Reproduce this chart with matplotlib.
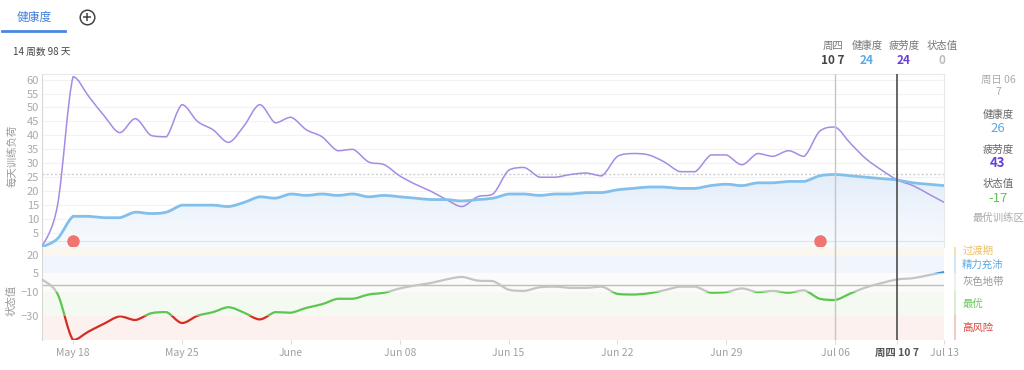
import numpy as np
import pandas as pd
import matplotlib
matplotlib.use("Agg")
import matplotlib.pyplot as plt
import matplotlib.dates as mdates
from matplotlib.patches import Rectangle, PathPatch
from matplotlib.path import Path
from matplotlib.colors import LinearSegmentedColormap
from matplotlib.transforms import blended_transform_factory

plt.rcParams['font.family'] = ['Noto Sans CJK SC', 'DejaVu Sans']

# daily values, May 16 - Jul 13 2025
dates = pd.date_range('2025-05-16', '2025-07-13')
fatigue = [0, 15, 61, 54, 47, 41, 46, 40, 39.5, 51, 45, 42, 37.5, 43.5, 51, 44.5,
           46.5, 42, 39.5, 34.5, 35, 30.5, 29.5, 25.5, 22.5, 20, 17, 14.5, 18, 19,
           27.5, 28.5, 25, 25, 26, 26.5, 25.5, 32.5, 33.5, 33, 30.5, 27, 27, 33, 33,
           29.5, 33.5, 32.5, 34.5, 32.5, 41.5, 43, 37, 31.5, 27.5, 24, 22, 19, 16]
health = [0, 3, 11, 11, 10.5, 10.5, 12.5, 12, 12.5, 15, 15, 15, 14.5, 16, 18, 17.5,
          19, 18.5, 19, 18.5, 19, 18, 18.5, 18, 17.5, 17, 17, 16.5, 17, 17.5,
          19, 19, 18.5, 19, 19, 19.5, 19.5, 20.5, 21, 21.5, 21.5, 21, 21, 22, 22.5,
          22, 23, 23, 23.5, 23.5, 25.5, 26, 25.5, 25, 24.5, 24, 23, 22.5, 22]
state = [0, -12, -50, -43, -36.5, -30.5, -33.5, -28, -27, -36, -30, -27, -23, -27.5,
         -33, -27, -27.5, -23.5, -20.5, -16, -16, -12.5, -11, -7.5, -5, -3, 0, 2, -1,
         -1.5, -8.5, -9.5, -6.5, -6, -7, -7, -6, -12, -12.5, -11.5, -9, -6, -6, -11,
         -10.5, -7.5, -10.5, -9.5, -11, -9, -16, -17, -11.5, -6.5, -3, 0, 1, 3.5, 6]
event_dates = ['2025-05-18', '2025-07-05']
event_level = 2.3
ref_level = 26

tick_dates = ['2025-05-18', '2025-05-25', '2025-06-01', '2025-06-08', '2025-06-15',
              '2025-06-22', '2025-06-29', '2025-07-06', '2025-07-10', '2025-07-13']
tick_labels = ['May 18', 'May 25', 'June', 'Jun 08', 'Jun 15', 'Jun 22', 'Jun 29',
               'Jul 06', '周四 10 7', 'Jul 13']

# state bands (low, high, background, line colour, legend bar colour, label, label colour)
bands = [
    (20, 26.7, '#fbf7ee', '#f0b94a', '#f6e2b4', '过渡期', '#eec063'),
    (5, 20, '#f1f6fc', '#3f95dc', '#d3e6f7', '精力充沛', '#5aa9e6'),
    (-10, 5, '#fbfbfb', '#c4c4c4', '#efefef', '灰色地带', '#999999'),
    (-30, -10, '#f4faf2', '#5cc64f', '#d5efcf', '最优', '#6cc95f'),
    (-50, -30, '#fcf1ef', '#d22e22', '#f3cbc6', '高风险', '#d9453a'),
]


def smooth_path(xs, ys, base=None):
    # cubic bezier through the daily points, control points kept between neighbours
    pts = np.column_stack([xs, ys]).astype(float)
    n = len(pts)
    verts = [pts[0]]
    codes = [Path.MOVETO]
    for i in range(n - 1):
        p0 = pts[max(i - 1, 0)]
        p1 = pts[i]
        p2 = pts[i + 1]
        p3 = pts[min(i + 2, n - 1)]
        c1 = p1 + (p2 - p0) / 6
        c2 = p2 - (p3 - p1) / 6
        lo, hi = min(p1[1], p2[1]), max(p1[1], p2[1])
        c1[1] = np.clip(c1[1], lo, hi)
        c2[1] = np.clip(c2[1], lo, hi)
        verts += [c1, c2, p2]
        codes += [Path.CURVE4] * 3
    if base is not None:
        verts += [(xs[-1], base), (xs[0], base), pts[0]]
        codes += [Path.LINETO, Path.LINETO, Path.CLOSEPOLY]
    return Path(verts, codes)


x = mdates.date2num(dates)
sel_day = mdates.date2num(pd.Timestamp('2025-07-06'))
cur_day = mdates.date2num(pd.Timestamp('2025-07-10'))

fig = plt.figure(figsize=(10.24, 3.7), dpi=100)
ax1 = fig.add_axes([0.041, 0.3324, 0.881, 0.4676])
ax2 = fig.add_axes([0.041, 0.0811, 0.881, 0.2513], sharex=ax1)

# ---- top panel: daily load ----
area = smooth_path(x, health, base=0)
cmap = LinearSegmentedColormap.from_list('fade', ['#f8fbfe', '#e2edf9'])
grad = np.linspace(1, 0, 256).reshape(-1, 1)
im = ax1.imshow(grad, extent=[x[0], x[-1], 0, 27], aspect='auto', cmap=cmap,
                origin='upper', zorder=1)
im.set_clip_path(area, transform=ax1.transData)

ax1.axhline(ref_level, color='#cfcfcf', lw=1, ls=(0, (1.5, 1.5)), zorder=2)
ax1.axhline(event_level, color='#e2e2e2', lw=0.8, zorder=2)
ax1.add_patch(PathPatch(smooth_path(x, fatigue), fc='none', ec='#a58be3', lw=1.1,
                        zorder=4, capstyle='round'))
ax1.add_patch(PathPatch(smooth_path(x, health), fc='none', ec='#83bfeb', lw=2,
                        zorder=4, capstyle='round'))
ax1.plot(mdates.date2num(pd.to_datetime(event_dates)), [event_level] * len(event_dates),
         'o', color='#f07470', ms=9, mec='none', zorder=5)

ax1.set_xlim(x[0], x[-1])
ax1.set_ylim(0, 62)
ax1.set_yticks(range(5, 61, 5))
ax1.grid(axis='y', color='#f2f2f2', lw=0.8)
ax1.set_axisbelow(True)
ax1.tick_params(axis='y', length=0, colors='#aaaaaa', labelsize=8, pad=2)
ax1.tick_params(axis='x', bottom=False, labelbottom=False)
ax1.spines['left'].set_color('#d8d8d8')
ax1.spines['top'].set_color('#e8e8e8')
ax1.spines['right'].set_color('#e8e8e8')
ax1.spines['bottom'].set_visible(False)

# ---- bottom panel: state value ----
for lo, hi, bg, lc, bc, lab, tc in bands:
    ax2.axhspan(lo, hi, color=bg, lw=0, zorder=0)
ax2.axhline(-5, color='#bdbdbd', lw=1, zorder=1)
state_path = smooth_path(x, state)
for lo, hi, bg, lc, bc, lab, tc in bands:
    pp = ax2.add_patch(PathPatch(state_path, fc='none', ec=lc, lw=1.6, zorder=3))
    pp.set_clip_path(Rectangle((x[0] - 1, lo), x[-1] - x[0] + 2, hi - lo,
                               transform=ax2.transData))

ax2.set_ylim(-50, 26.7)
ax2.set_yticks([20, 5, -10, -30])
ax2.tick_params(axis='y', length=0, colors='#aaaaaa', labelsize=8, pad=2)
ax2.set_xticks(mdates.date2num(pd.to_datetime(tick_dates)))
ax2.set_xticklabels(tick_labels)
ax2.tick_params(axis='x', length=3, color='#dddddd', labelsize=7.5,
                labelcolor='#a0a0a0', pad=3)
for t in ax2.get_xticklabels():
    if t.get_text().startswith('周'):
        t.set_color('#555555')
        t.set_fontweight('bold')
for s in ['top', 'right', 'bottom']:
    ax2.spines[s].set_visible(False)
ax2.spines['left'].set_color('#d8d8d8')

for ax in (ax1, ax2):
    ax.axvline(sel_day, color='#c6c6c6', lw=1, zorder=6)
    ax.axvline(cur_day, color='#4d4d4d', lw=1.2, zorder=6)

# band legend on the right
tr = blended_transform_factory(ax2.transAxes, ax2.transData)
label_y = [23.5, 12.5, -2.5, -20, -40]
for (lo, hi, bg, lc, bc, lab, tc), ly in zip(bands, label_y):
    ax2.plot([1.012, 1.012], [lo + 0.6, hi - 0.6], color=bc, lw=1.5,
             transform=tr, clip_on=False)
    ax2.text(1.020, ly, lab, color=tc, fontsize=7.5, va='center', ha='left',
             transform=tr)

# axis titles
fig.text(12 / 1024, 1 - 156 / 370, '每天训练负荷', rotation=90, color='#999999',
         fontsize=7.5, ha='center', va='center')
fig.text(12 / 1024, 1 - 300 / 370, '状态值', rotation=90, color='#999999',
         fontsize=7.5, ha='center', va='center')

# header
fig.text(34 / 1024, 1 - 17 / 370, '健康度', color='#3f7fdc', fontsize=8.5,
         ha='center', va='center')
fig.add_artist(plt.Line2D([2 / 1024, 65 / 1024], [1 - 31 / 370, 1 - 31 / 370],
                          color='#4a86e0', lw=2))
fig.add_artist(plt.Line2D([87 / 1024], [1 - 17 / 370], marker='o', ms=10.5,
                          mfc='none', mec='#444444', mew=1.1))
fig.add_artist(plt.Line2D([87 / 1024], [1 - 17 / 370], marker='+', ms=6,
                          mec='#444444', mew=1.1))
fig.text(13 / 1024, 1 - 52 / 370, '14 周数 98 天', color='#444444', fontsize=7,
         ha='left', va='center')

# tooltip for the current day
tip = [(833, '周四', '10 7', '#444444'), (867, '健康度', '24', '#5aa9e6'),
       (904, '疲劳度', '24', '#6a3fd8'), (942, '状态值', '0', '#bbbbbb')]
for tx, head, val, vc in tip:
    fig.text(tx / 1024, 1 - 46 / 370, head, color='#777777', fontsize=7.5,
             ha='center', va='center')
    fig.text(tx / 1024, 1 - 61 / 370, val, color=vc, fontsize=8.5,
             fontweight='bold', ha='center', va='center')

# side panel for the selected day
side = [(80, '周日 06', '#aaaaaa', 7.5, 'normal'), (92, '7', '#aaaaaa', 7.5, 'normal'),
        (115, '健康度', '#666666', 7.5, 'normal'), (129, '26', '#5aa9e6', 9.5, 'normal'),
        (150, '疲劳度', '#666666', 7.5, 'normal'), (163, '43', '#6a3fd8', 9.5, 'bold'),
        (184, '状态值', '#666666', 7.5, 'normal'), (198, '-17', '#5cc64f', 9.5, 'normal'),
        (218, '最优训练区', '#aaaaaa', 7.5, 'normal')]
for sy, txt, c, fs, fw in side:
    fig.text(998 / 1024, 1 - sy / 370, txt, color=c, fontsize=fs, fontweight=fw,
             ha='center', va='center')

fig.savefig('out.png', dpi=100)
